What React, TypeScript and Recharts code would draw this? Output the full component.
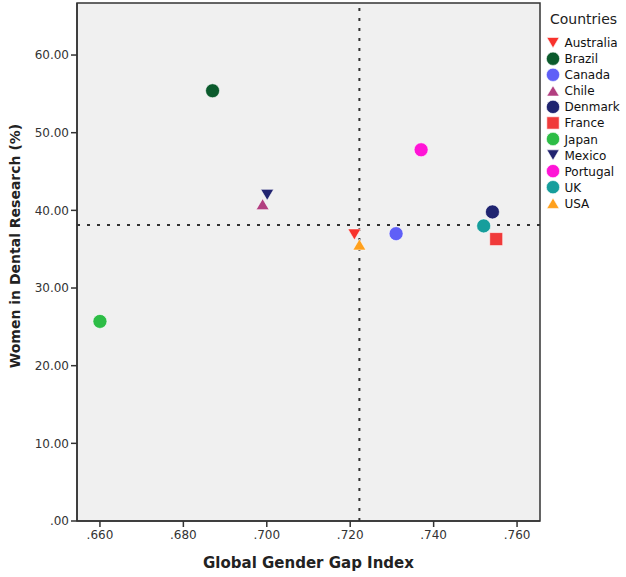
import React from "react";
import {
  ScatterChart,
  Scatter,
  XAxis,
  YAxis,
  ReferenceLine,
  ReferenceArea,
} from "recharts";

// values
const countries = ["Australia", "Brazil", "Canada", "Chile", "Denmark", "France", "Japan", "Mexico", "Portugal", "UK", "USA"];
const gapIndex = [0.721, 0.687, 0.731, 0.699, 0.7541, 0.755, 0.66, 0.7001, 0.737, 0.752, 0.7222];
const womenPct = [36.9, 55.4, 37.0, 40.8, 39.8, 36.3, 25.7, 42.0, 47.8, 38.0, 35.6];
const xTicks = [0.66, 0.68, 0.7, 0.72, 0.74, 0.76];
const yTicks = [0, 10, 20, 30, 40, 50, 60];
const meanGap = 0.7222;
const meanWomen = 38.1;

// styles
const markerColors = ["#f8322c", "#0b5a2c", "#5f5ff7", "#b23e80", "#1f2470", "#f03a3a", "#2dbd46", "#222470", "#ff14d6", "#169e9c", "#ffa01c"];
const markerKinds = ["down", "circle", "circle", "up", "circle", "square", "circle", "down", "circle", "circle", "up"];

const X_DOMAIN: [number, number] = [0.6545, 0.7655];
const Y_DOMAIN: [number, number] = [0, 66.7];

function Marker({ kind, cx, cy, fill, s = 1 }: { kind: string; cx: number; cy: number; fill: string; s?: number }) {
  if (kind === "circle") return <circle cx={cx} cy={cy} r={7 * s} fill={fill} stroke="#fff" strokeOpacity={0.6} strokeWidth={1} />;
  if (kind === "square") {
    const h = 6.5 * s;
    return <rect x={cx - h} y={cy - h} width={h * 2} height={h * 2} fill={fill} stroke="#fff" strokeOpacity={0.6} strokeWidth={1} />;
  }
  const w = 6.5 * s;
  const t = 5.5 * s;
  const pts =
    kind === "up"
      ? `${cx},${cy - t} ${cx + w},${cy + t} ${cx - w},${cy + t}`
      : `${cx - w},${cy - t} ${cx + w},${cy - t} ${cx},${cy + t}`;
  return <polygon points={pts} fill={fill} stroke="#fff" strokeOpacity={0.6} strokeWidth={1} />;
}

const fmtX = (v: number) => v.toFixed(3).replace(/^0/, "");
const fmtY = (v: number) => (v === 0 ? ".00" : v.toFixed(2));

function XTitle(props: any) {
  const vb = props.viewBox || { x: 77, y: 521, width: 463, height: 56 };
  return (
    <text x={vb.x + vb.width / 2} y={vb.y + 47} textAnchor="middle" fontSize={15} fontWeight="bold" fill="#222">
      Global Gender Gap Index
    </text>
  );
}

function YTitle(props: any) {
  const vb = props.viewBox || { x: 0, y: 3, width: 77, height: 518 };
  const x = vb.x + 20;
  const y = vb.y + vb.height / 2 - 16;
  return (
    <text x={x} y={y} transform={`rotate(-90, ${x}, ${y})`} textAnchor="middle" fontSize={14} fontWeight="bold" fill="#222">
      Women in Dental Research (%)
    </text>
  );
}

export default function App() {
  return (
    <div style={{ position: "absolute", left: 0, top: 0, width: 626, height: 577, background: "#fff", fontFamily: "'DejaVu Sans', sans-serif" }}>
      <ScatterChart width={626} height={577} margin={{ top: 3, right: 86, bottom: 0, left: 0 }}>
        <XAxis
          type="number"
          dataKey="x"
          domain={X_DOMAIN}
          ticks={xTicks}
          allowDataOverflow
          tickFormatter={fmtX}
          height={56}
          tickSize={6}
          tickMargin={3}
          tick={{ fill: "#333", fontSize: 12 }}
          axisLine={{ stroke: "#333", strokeWidth: 1.5 }}
          tickLine={{ stroke: "#333", strokeWidth: 1.5 }}
          label={{ content: XTitle }}
        />
        <YAxis
          type="number"
          dataKey="y"
          domain={Y_DOMAIN}
          ticks={yTicks}
          allowDataOverflow
          tickFormatter={fmtY}
          width={77}
          tickSize={6}
          tickMargin={2}
          tick={{ fill: "#333", fontSize: 12 }}
          axisLine={{ stroke: "#333", strokeWidth: 1.5 }}
          tickLine={{ stroke: "#333", strokeWidth: 1.5 }}
          label={{ content: YTitle }}
        />
        <ReferenceArea
          x1={X_DOMAIN[0]}
          x2={X_DOMAIN[1]}
          y1={Y_DOMAIN[0]}
          y2={Y_DOMAIN[1]}
          fill="#f0f0f0"
          fillOpacity={1}
          stroke="#333"
          strokeWidth={1.5}
        />
        {countries.map((c, i) => (
          <Scatter
            key={c}
            name={c}
            data={[{ x: gapIndex[i], y: womenPct[i] }]}
            fill={markerColors[i]}
            isAnimationActive={false}
            shape={(p: any) => <Marker kind={markerKinds[i]} cx={p.cx} cy={p.cy} fill={markerColors[i]} />}
          />
        ))}
        <ReferenceLine x={meanGap} stroke="#333" strokeWidth={2} strokeDasharray="3 7" />
        <ReferenceLine y={meanWomen} stroke="#333" strokeWidth={2} strokeDasharray="3 7" />
      </ScatterChart>
      <svg width={86} height={215} style={{ position: "absolute", left: 540, top: 0 }}>
        <text x={10} y={24} fontSize={14} fill="#222">
          Countries
        </text>
        {countries.map((c, i) => {
          const cy = 42.7 + i * 16.05;
          return (
            <g key={c}>
              <Marker kind={markerKinds[i]} cx={13} cy={cy} fill={markerColors[i]} s={0.95} />
              <text x={24.5} y={cy + 4.5} fontSize={12} fill="#111">
                {c}
              </text>
            </g>
          );
        })}
      </svg>
    </div>
  );
}
